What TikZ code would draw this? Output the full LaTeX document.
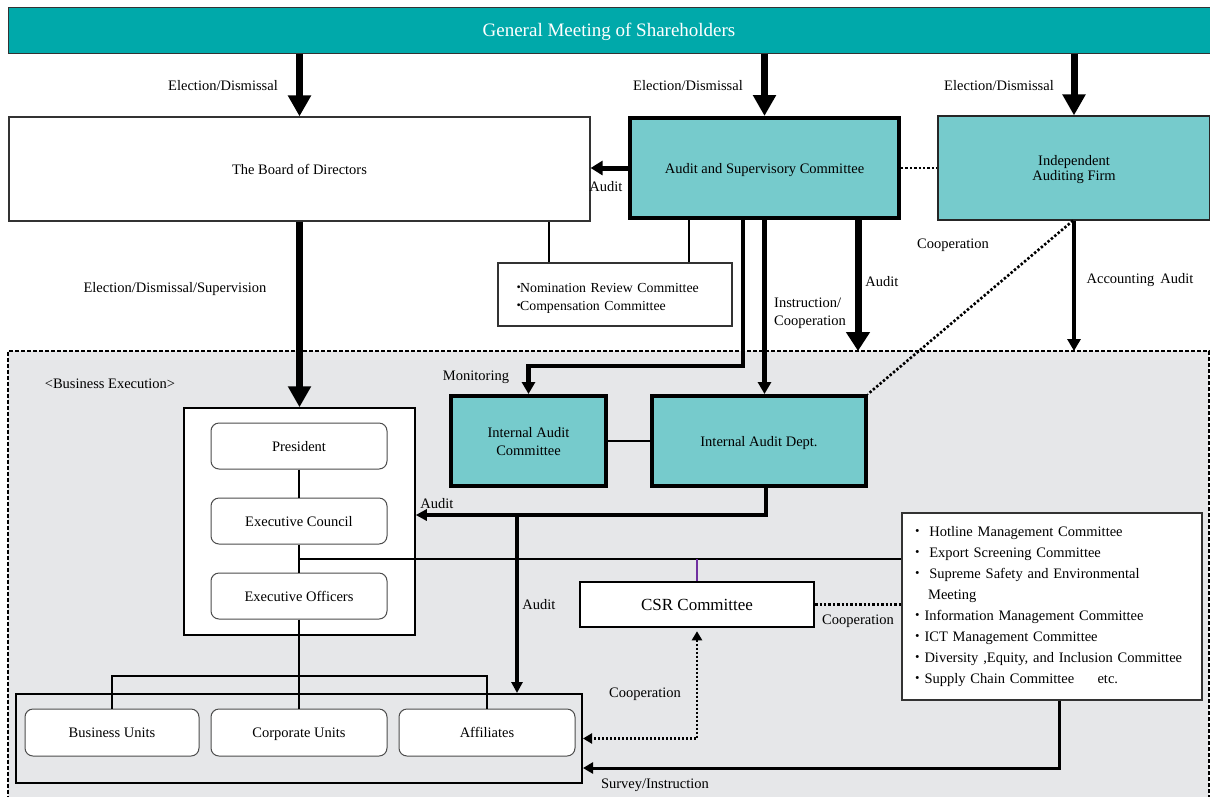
\documentclass[tikz,border=0pt]{standalone}
\usepackage{fontspec}
\setmainfont{Liberation Serif}
\newfontfamily\cjk{Noto Sans CJK JP}
\usetikzlibrary{arrows.meta,calc}
\definecolor{tealD}{HTML}{00A9AA}
\definecolor{tealL}{HTML}{76CBCC}
\definecolor{bgG}{HTML}{E6E7E9}
\definecolor{purp}{HTML}{7030A0}
\newcommand{\fbul}{{\cjk ・}}
\newcommand{\hbul}{\hspace*{-0.3em}{\cjk ・}\hspace{-0.4em}}
\tikzset{
  flat/.style={text depth=0pt},
  lbl/.style={font=\fontsize{14.5}{18}\selectfont, inner sep=0pt, text depth=0pt},
  thinbox/.style={draw=black!80, line width=1.2pt, fill=white, inner sep=0pt, font=\fontsize{14.5}{18}\selectfont},
  tealbox/.style={draw=black, line width=4pt, fill=tealL, inner sep=0pt, text depth=0pt, font=\fontsize{14.5}{18}\selectfont},
  rbox/.style={draw=black!70, line width=1pt, fill=white, rounded corners=8pt, inner sep=0pt, text depth=0pt, minimum width=176pt, minimum height=46pt, font=\fontsize{14.5}{18}\selectfont},
  bigarr/.style={line width=7pt, -{Triangle[width=22pt,length=21pt]}},
  ascaud/.style={line width=7pt, -{Triangle[width=23pt,length=19pt]}},
  medarr/.style={line width=4.5pt, -{Triangle[width=13pt,length=12pt]}},
  smallarr/.style={line width=4pt, -{Triangle[width=11pt,length=11pt]}},
  survarr/.style={line width=3pt, -{Triangle[width=11pt,length=10pt]}},
  link/.style={line width=2.5pt},
  dots/.style={line width=2.6pt, dash pattern=on 2.4pt off 2pt},
  dotarr/.style={line width=2.2pt, dash pattern=on 2pt off 2pt, {Triangle[width=10pt,length=9pt]}-{Triangle[width=10pt,length=9pt]}}
}
\begin{document}
\begin{tikzpicture}[x=1pt,y=-1pt]
\path[use as bounding box] (0,0) rectangle (1210,796);
% background business execution area
\fill[bgG] (8,351) rectangle (1209,800);
\draw[line width=1.2pt, dash pattern=on 4pt off 2pt] (8,800) -- (8,351) -- (1209,351) -- (1209,800);

% top level nodes
\node[draw=black!80, line width=1pt, fill=tealD, text=white, minimum width=1202pt, minimum height=46pt, inner sep=0pt, flat, font=\fontsize{19}{22}\selectfont] (gms) at (609,30) {General Meeting of Shareholders};
\node[thinbox, flat, minimum width=581pt, minimum height=104pt] (board) at (299.5,169) {The Board of Directors};
\node[tealbox, minimum width=269pt, minimum height=100pt] (asc) at (764.5,168) {Audit and Supervisory Committee};
\node[thinbox, flat, fill=tealL, draw=black!85, minimum width=272pt, minimum height=104pt, align=center, font=\fontsize{14.5}{12.5}\selectfont] (iaf) at (1074,168) {Independent\\Auditing Firm};
\node[thinbox, minimum width=234pt, minimum height=63pt, text width=198pt, inner xsep=18pt, align=left, font=\fontsize{13.8}{18}\selectfont] (nom) at (615,294.5) {\rule{0pt}{16pt}\hbul Nomination Review Committee\\\hbul Compensation Committee};

% business execution nodes
\node[lbl] (lbe) at (110,384) {<Business Execution>};
\node[draw=black, line width=1.5pt, fill=white, minimum width=231pt, minimum height=227pt, inner sep=0pt] (exec) at (299.5,521.5) {};
\node[rbox] (pres) at (299,446) {President};
\node[rbox] (council) at (299,521) {Executive Council};
\node[rbox] (officers) at (299,596) {Executive Officers};
\node[tealbox, minimum width=155pt, minimum height=90pt, align=center] (iac) at (528.5,441) {Internal Audit\\Committee};
\node[tealbox, minimum width=214pt, minimum height=90pt] (iad) at (759,441) {Internal Audit Dept.};
\node[thinbox, flat, draw=black, line width=2.5pt, minimum width=234pt, minimum height=45pt, font=\fontsize{17}{20}\selectfont] (csr) at (697,604.5) {CSR Committee};
\node[thinbox, minimum width=300pt, minimum height=187pt, text width=284pt, inner xsep=8pt, align=left, font=\fontsize{14.5}{21}\selectfont] (comm) at (1052,606.5) {%
\fbul\ Hotline Management Committee\\
\fbul\ Export Screening Committee\\
\fbul\ Supreme Safety and Environmental\\
\hspace*{1.25em}Meeting\\
\fbul Information Management Committee\\
\fbul ICT Management Committee\\
\fbul Diversity ,Equity, and Inclusion Committee\\
\fbul Supply Chain Committee\hspace{1.6em}etc.};
\node[draw=black, line width=2pt, minimum width=566pt, minimum height=89pt, inner sep=0pt] (group) at (299,738.5) {};
\node[rbox, minimum width=174pt, minimum height=47pt] (bu) at (112,732.5) {Business Units};
\node[rbox, minimum width=176pt, minimum height=47pt] (cu) at (299,732.5) {Corporate Units};
\node[rbox, minimum width=176pt, minimum height=47pt] (af) at (487,732.5) {Affiliates};

% labels
\node[lbl] (l1) at (223,85) {Election/Dismissal};
\node[lbl] (l2) at (688,85) {Election/Dismissal};
\node[lbl] (l3) at (999,85) {Election/Dismissal};
\node[lbl] (l4) at (606,186) {Audit};
\node[lbl] (l5) at (175,287) {Election/Dismissal/Supervision};
\node[lbl, anchor=west, align=left] (l6) at (774,312) {Instruction/\\Cooperation};
\node[lbl] (l7) at (882,281) {Audit};
\node[lbl] (l8) at (953,244) {Cooperation};
\node[lbl] (l9) at (1140,278) {Accounting\, Audit};
\node[lbl] (l10) at (476,376) {Monitoring};
\node[lbl] (l11) at (437,503) {Audit};
\node[lbl] (l12) at (539,604) {Audit};
\node[lbl] (l13) at (858,620) {Cooperation};
\node[lbl] (l14) at (645,693) {Cooperation};
\node[lbl] (l15) at (655,784) {Survey/Instruction};

% helper coordinates
\coordinate (n1) at ([xshift=-66pt]nom.north);
\coordinate (n2) at ([xshift=74pt]nom.north);
\coordinate (m1) at ([xshift=-21.5pt]asc.south);
\coordinate (mon) at (0,366);
\coordinate (a1) at ([xshift=93.5pt]asc.south);
\coordinate (bgtop) at (0,351);
\coordinate (d1) at ([xshift=7pt]iad.south);
\coordinate (v1) at (517,515);
\coordinate (h1) at (299,559);
\coordinate (u) at (299,676);

% connectors
\draw[bigarr] (gms.south -| board.north) -- (board.north);
\draw[bigarr] (gms.south -| asc.north) -- (asc.north);
\draw[bigarr] (gms.south -| iaf.north) -- (iaf.north);
\draw[line width=5pt, -{Triangle[width=14pt,length=12pt]}] (asc.west) -- (asc.west -| board.east);
\draw[dots] (asc.east) -- (iaf.west);
\draw[line width=2pt] (n1) -- (n1 |- board.south);
\draw[line width=2pt] (n2) -- (n2 |- asc.south);
\draw[medarr] (m1) -- (m1 |- mon) -| (iac.north);
\draw[medarr] (asc.south) -- (asc.south |- iad.north);
\draw[ascaud] (a1) -- (a1 |- bgtop);
\draw[medarr] (iaf.south) -- (iaf.south |- bgtop);
\draw[dots] ([xshift=-1pt]iaf.south) -- (iad.north east);
\draw[bigarr] (board.south) -- (exec.north);
\draw[line width=2pt] (iac.east) -- (iad.west);
\draw[smallarr] (d1) |- ($(exec.east)+(0,-6.5)$);
\draw[smallarr] (v1) -- (v1 |- group.north);
\draw[link] (pres) -- (council);
\draw[link] (council) -- (officers);
\draw[link] (h1) -- (h1 -| comm.west);
\draw[line width=2pt, purp] (csr.north) -- (csr.north |- h1);
\draw[dots] (csr.east) -- (csr.east -| comm.west);
\draw[dotarr, shorten <=3pt] (csr.south) |- (group.east);
\draw[survarr] ([xshift=7pt]comm.south) |- ([yshift=-29.5pt]group.east);
\draw[link] (officers.south) -- (u);
\draw[link] (bu.north) -- (bu.north |- u) -- (af.north |- u) -- (af.north);
\draw[link] (u) -- (cu.north);
\end{tikzpicture}
\end{document}
